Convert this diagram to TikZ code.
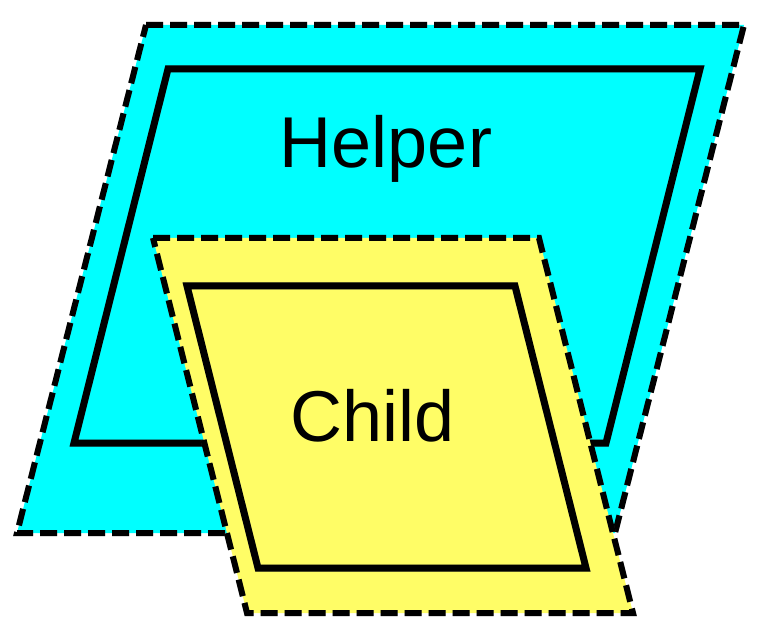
\documentclass[tikz,border=0pt]{standalone}
\usepackage{fontspec}
\setmainfont{Liberation Sans}
\definecolor{helpercyan}{RGB}{0,255,255}
\definecolor{childyellow}{RGB}{255,253,102}
\tikzset{
  outerline/.style={line width=3pt, dash pattern=on 8.5pt off 3.5pt},
  innerline/.style={line width=3.5pt},
  lineshade/.style={black!50, opacity=0.35, shift={(2.5,2.5)}},
  label/.style={anchor=base, font=\fontsize{36}{40}\selectfont}
}
\begin{document}
\begin{tikzpicture}[x=0.5pt,y=-0.5pt,line join=miter]
\useasboundingbox (0,0) rectangle (769,640);
% helper
\coordinate (hA) at (146,25);
\coordinate (hB) at (744,25);
\coordinate (hC) at (615,533);
\coordinate (hD) at (17,533);
\coordinate (hiA) at (168,69);
\coordinate (hiB) at (700,69);
\coordinate (hiC) at (606,443);
\coordinate (hiD) at (74,443);
\fill[helpercyan] (hA)--(hB)--(hC)--(hD)--cycle;
\draw[outerline,lineshade] (hA)--(hB)--(hC)--(hD)--cycle;
\draw[outerline] (hA)--(hB)--(hC)--(hD)--cycle;
\draw[innerline,lineshade] (hiA)--(hiB)--(hiC)--(hiD)--cycle;
\draw[innerline] (hiA)--(hiB)--(hiC)--(hiD)--cycle;
\node[label] (helper) at (386,168) {Helper};
% child
\coordinate (cA) at (153,238);
\coordinate (cB) at (539,238);
\coordinate (cC) at (633,613);
\coordinate (cD) at (247,613);
\coordinate (ciA) at (187,286);
\coordinate (ciB) at (515,286);
\coordinate (ciC) at (586,568);
\coordinate (ciD) at (258,568);
\fill[childyellow] (cA)--(cB)--(cC)--(cD)--cycle;
\draw[outerline,lineshade] (cA)--(cB)--(cC)--(cD)--cycle;
\draw[outerline] (cA)--(cB)--(cC)--(cD)--cycle;
\draw[innerline,lineshade] (ciA)--(ciB)--(ciC)--(ciD)--cycle;
\draw[innerline] (ciA)--(ciB)--(ciC)--(ciD)--cycle;
\node[label] (child) at (373,441) {Child};
\end{tikzpicture}
\end{document}
